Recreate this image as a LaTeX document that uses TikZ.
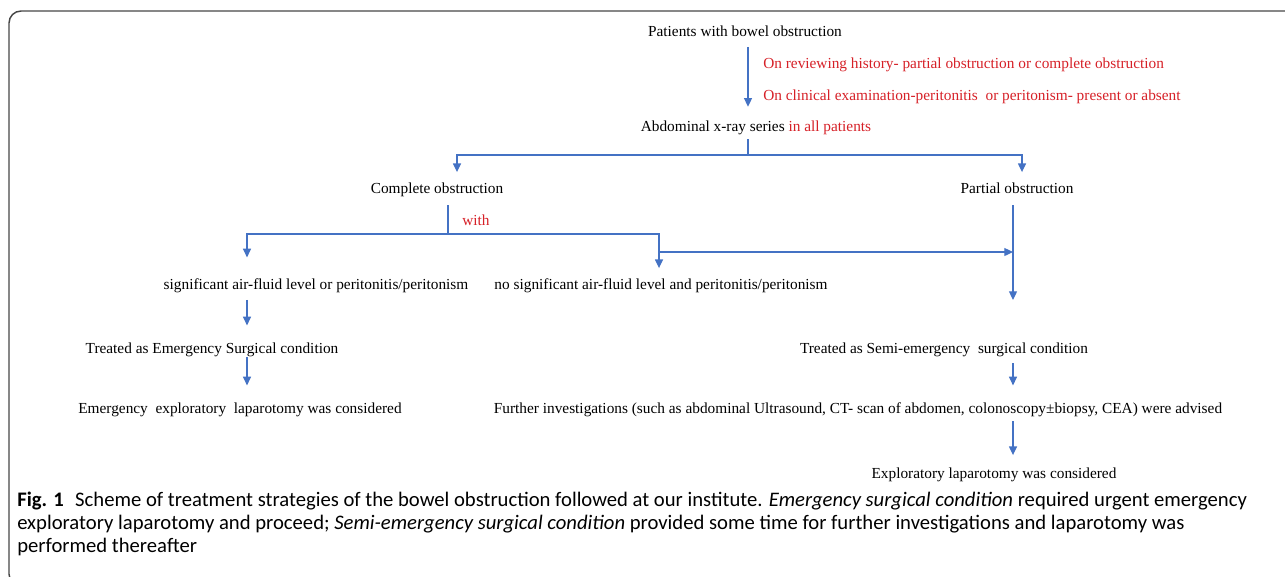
\documentclass[tikz,border=0pt]{standalone}
\usepackage{fontspec}
\setmainfont{Liberation Serif}
\newfontfamily\capfont{Carlito}
\usetikzlibrary{arrows.meta,calc}
\definecolor{flowblue}{RGB}{68,114,196}
\definecolor{redtxt}{RGB}{214,32,39}
\definecolor{framegray}{RGB}{70,70,70}
\begin{document}
\begin{tikzpicture}[x=0.75pt,y=-0.75pt,
  txt/.style={font=\fontsize{11.5}{13}\selectfont, text height=8pt, text depth=2.5pt, inner xsep=0pt, inner ysep=3pt},
  redlabel/.style={txt, text=redtxt, anchor=west},
  captext/.style={font=\capfont\fontsize{15.5}{18}\selectfont, inner sep=0pt, anchor=west, text=black},
  ln/.style={draw=flowblue, line width=0.9pt},
  arr/.style={ln, -{Triangle[length=6.5pt,width=6pt]}}]
\useasboundingbox (0,0) rectangle (1285,576);
\begin{scope}
  \clip (0,0) rectangle (1285,576);
  \draw[framegray, line width=1.1pt, rounded corners=9pt] (1300,11) -- (9,11) -- (9,586) -- (1300,586);
\end{scope}

% helper x positions
\coordinate (a1) at (748,0);
\coordinate (a2) at (457,0);
\coordinate (a3) at (1022,0);
\coordinate (a4) at (448,0);
\coordinate (a5) at (247,0);
\coordinate (a6) at (659,0);
\coordinate (a7) at (1013,0);

% nodes
\node[txt] (p) at (745,33) {Patients with bowel obstruction};
\node[redlabel] (r1) at (763,65) {On reviewing history- partial obstruction or complete obstruction};
\node[redlabel] (r2) at (763,97) {On clinical examination-peritonitis\ \ or peritonism- present or absent};
\node[txt] (ax) at (756,128) {Abdominal x-ray series {\color{redtxt}in all patients}};
\node[txt] (co) at (437,190) {Complete obstruction};
\node[txt] (po) at (1017,190) {Partial obstruction};
\node[txt, text=redtxt] (with) at (476,222) {with};
\node[txt] (sig) at (316,286) {significant air-fluid level or peritonitis/peritonism};
\node[txt] (nosig) at (661,286) {no significant air-fluid level and peritonitis/peritonism};
\node[txt] (tes) at (212,350) {Treated as Emergency Surgical condition};
\node[txt] (eel) at (240,410) {Emergency\ \ exploratory\ \ laparotomy was considered};
\node[txt] (tss) at (944,350) {Treated as Semi-emergency\ \ surgical condition};
\node[txt] (fi) at (858,410) {Further investigations (such as abdominal Ultrasound, CT- scan of abdomen, colonoscopy\textpm biopsy, CEA) were advised};
\node[txt] (el) at (994,475) {Exploratory laparotomy was considered};

% junctions
\coordinate (j1) at (748,155);
\coordinate (j2) at (448,234);
\coordinate (j3) at (659,252);
\coordinate (j4) at (1013,252);
\coordinate (e1) at (1013,300);

% connectors
\draw[arr, shorten <=2pt, shorten >=7.5pt] (p.south -| a1) -- (a1 |- ax.north);
\draw[ln] (ax.south -| a1) -- (j1);
\draw[arr, shorten >=5pt] (j1) -| (a2 |- co.north);
\draw[arr, shorten >=5pt] (j1) -| (a3 |- po.north);
\draw[ln, shorten <=3pt] (co.south -| a4) -- (j2);
\draw[arr, shorten >=13pt] (j2) -| (a5 |- sig.north);
\draw[arr, shorten >=5pt] (j2) -| (a6 |- nosig.north);
\draw[arr] (j3) -- (j4);
\draw[arr, shorten <=3pt] (po.south -| a7) -- (e1);
\draw[arr, shorten <=2pt, shorten >=10pt] (sig.south -| a5) -- (a5 |- tes.north);
\draw[arr, shorten <=-3pt, shorten >=10pt] (tes.south -| a5) -- (a5 |- eel.north);
\draw[arr, shorten <=1.5pt, shorten >=10pt] (tss.south -| a7) -- (a7 |- fi.north);
\draw[arr, shorten >=6.5pt] (fi.south -| a7) -- (a7 |- el.north);

% caption
\node[captext] (c1) at (17,501) {{\bfseries Fig. 1}\hspace{0.55em}Scheme of treatment strategies of the bowel obstruction followed at our institute. \emph{Emergency surgical condition} required urgent emergency};
\node[captext] (c2) at (17,524) {exploratory laparotomy and proceed; \emph{Semi-emergency surgical condition} provided some time for further investigations and laparotomy was};
\node[captext] (c3) at (17,547) {performed thereafter};
\end{tikzpicture}
\end{document}
